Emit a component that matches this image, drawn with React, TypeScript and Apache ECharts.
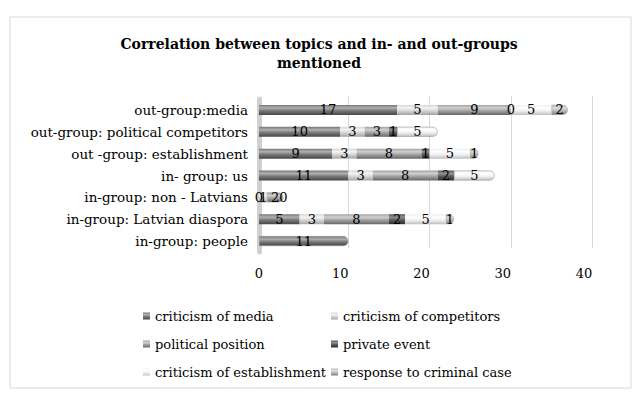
import React, { useEffect, useRef } from "react";
import * as echarts from "echarts";

const categories = [
  "in-group: people",
  "in-group: Latvian diaspora",
  "in-group: non - Latvians",
  "in- group: us",
  "out -group: establishment",
  "out-group: political competitors",
  "out-group:media",
];
const seriesNames = [
  "criticism of media",
  "criticism of competitors",
  "political position",
  "private event",
  "criticism of establishment",
  "response to criminal case",
];
const criticismOfMedia = [11, 5, 0, 11, 9, 10, 17];
const criticismOfCompetitors = [null, 3, 1, 3, 3, 3, 5];
const politicalPosition = [null, 8, 2, 8, 8, 3, 9];
const privateEvent = [null, 2, 0, 2, 1, 1, 0];
const criticismOfEstablishment = [null, 5, null, 5, 5, 5, 5];
const responseToCriminalCase = [null, 1, null, null, 1, null, 2];
const xTicks = [0, 10, 20, 30, 40];

const seriesData: (number | null)[][] = [
  criticismOfMedia,
  criticismOfCompetitors,
  politicalPosition,
  privateEvent,
  criticismOfEstablishment,
  responseToCriminalCase,
];

const shades: [string, string, string][] = [
  ["#b0b0b0", "#767676", "#474747"],
  ["#f4f4f4", "#d4d4d4", "#a3a3a3"],
  ["#d0d0d0", "#a0a0a0", "#666666"],
  ["#929292", "#575757", "#2e2e2e"],
  ["#ffffff", "#efefef", "#c0c0c0"],
  ["#e0e0e0", "#b8b8b8", "#7e7e7e"],
];

const FONT = "DejaVu Serif";

function grad(s: [string, string, string]) {
  return new echarts.graphic.LinearGradient(0, 0, 0, 1, [
    { offset: 0, color: s[1] },
    { offset: 0.3, color: s[0] },
    { offset: 0.6, color: s[1] },
    { offset: 1, color: s[2] },
  ]);
}

// index of last non-empty segment in each row (for the rounded end cap)
const lastIndex = categories.map((_, r) => {
  let last = -1;
  seriesData.forEach((arr, s) => {
    const v = arr[r];
    if (v !== null && v > 0) last = s;
  });
  return last;
});

export default function App() {
  const ref = useRef<HTMLDivElement>(null);
  useEffect(() => {
    document.body.style.margin = "0";
    const chart = echarts.init(ref.current!, undefined, { renderer: "svg" });
    const gridLeft = 259;
    const gridWidth = 325;
    const legendText = { fontFamily: FONT, fontSize: 13, lineHeight: 16, color: "#000" };
    chart.setOption({
      animation: false,
      backgroundColor: "#ffffff",
      title: {
        text: "Correlation between topics and in- and out-groups\nmentioned",
        left: "center",
        top: 29,
        textStyle: {
          fontFamily: FONT,
          fontWeight: "bold",
          fontSize: 14,
          lineHeight: 19,
          color: "#000",
        },
      },
      graphic: [
        {
          type: "rect",
          shape: { x: 10, y: 17, width: 621, height: 371 },
          style: { fill: "none", stroke: "#d9d9d9", lineWidth: 1 },
          silent: true,
        },
      ],
      legend: [
        {
          data: [seriesNames[0], seriesNames[2], seriesNames[4]],
          orient: "vertical",
          left: 138,
          top: 303,
          itemWidth: 7,
          itemHeight: 7,
          itemGap: 12,
          icon: "rect",
          textStyle: legendText,
        },
        {
          data: [seriesNames[1], seriesNames[3], seriesNames[5]],
          orient: "vertical",
          left: 326,
          top: 303,
          itemWidth: 7,
          itemHeight: 7,
          itemGap: 12,
          icon: "rect",
          textStyle: legendText,
        },
      ],
      grid: [
        { left: gridLeft, width: gridWidth, top: 99, height: 153 },
        { left: gridLeft + 8, width: gridWidth, top: 96, height: 152 },
      ],
      xAxis: [
        {
          type: "value",
          gridIndex: 0,
          min: xTicks[0],
          max: xTicks[xTicks.length - 1],
          interval: 10,
          axisLine: { show: false },
          axisTick: { show: false },
          splitLine: { show: false },
          axisLabel: { fontFamily: FONT, fontSize: 13, color: "#000", margin: 15 },
        },
        {
          type: "value",
          gridIndex: 1,
          min: xTicks[0],
          max: xTicks[xTicks.length - 1],
          interval: 10,
          axisLine: { show: false },
          axisTick: { show: false },
          axisLabel: { show: false },
          splitLine: {
            show: true,
            lineStyle: {
              color: ["rgba(0,0,0,0)", "#d9d9d9", "#d9d9d9", "#d9d9d9", "#d9d9d9"],
              width: 1,
            },
          },
        },
      ],
      yAxis: [
        {
          type: "category",
          gridIndex: 0,
          data: categories,
          axisTick: { show: false },
          axisLine: { show: true, lineStyle: { color: "#d0d0d0", width: 5 } },
          axisLabel: { fontFamily: FONT, fontSize: 13.5, color: "#000", margin: 11 },
        },
        {
          type: "category",
          gridIndex: 1,
          data: categories,
          show: false,
        },
      ],
      series: seriesNames.map((name, i) => ({
        name,
        type: "bar",
        stack: "total",
        xAxisIndex: 0,
        yAxisIndex: 0,
        barWidth: 10,
        data: seriesData[i].map((v, r) =>
          lastIndex[r] === i
            ? { value: v, itemStyle: { borderRadius: [0, 5, 5, 0], borderColor: "#9a9a9a", borderWidth: 0.6 } }
            : v
        ),
        itemStyle: { color: grad(shades[i]) },
        label: {
          show: true,
          position: "inside",
          fontFamily: FONT,
          fontSize: 13,
          color: "#000",
        },
        z: 3,
      })),
    });
    return () => chart.dispose();
  }, []);
  return <div ref={ref} style={{ width: 638, height: 398 }} />;
}
